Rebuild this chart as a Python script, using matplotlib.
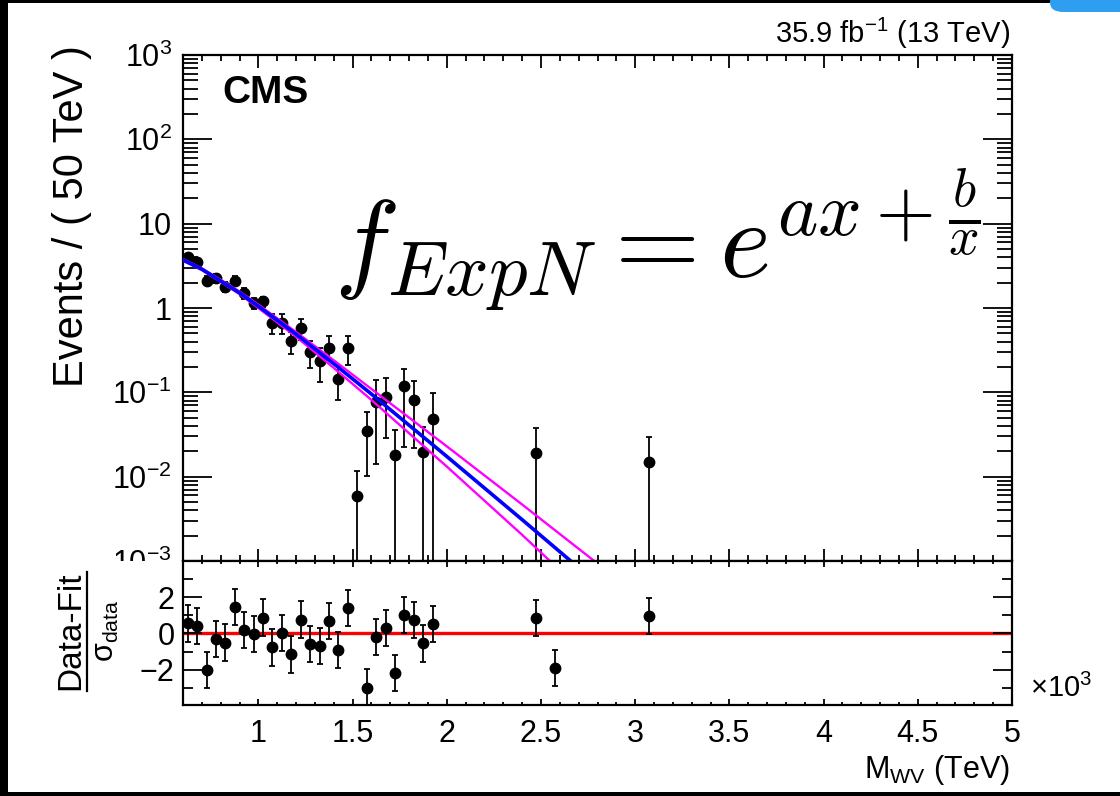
import numpy as np
import matplotlib.pyplot as plt
from matplotlib.patches import Rectangle, FancyBboxPatch
from matplotlib.lines import Line2D
from matplotlib.ticker import FixedLocator, LogLocator, NullFormatter

plt.rcParams['font.family'] = ['Liberation Sans', 'DejaVu Sans']
plt.rcParams['mathtext.fontset'] = 'custom'
plt.rcParams['mathtext.rm'] = 'Liberation Sans'
plt.rcParams['mathtext.it'] = 'Liberation Sans:italic'
plt.rcParams['mathtext.bf'] = 'Liberation Sans:bold'

# data points (GeV, events per bin)
mass = [625, 675, 725, 775, 825, 875, 925, 975, 1025, 1075, 1125, 1175, 1225,
        1275, 1325, 1375, 1425, 1475, 1525, 1575, 1625, 1675, 1725, 1775,
        1825, 1875, 1925, 2475, 3075]
events = [3.99, 3.48, 2.11, 2.25, 1.79, 2.11, 1.51, 1.15, 1.20, 0.664, 0.664,
          0.41, 0.574, 0.299, 0.234, 0.333, 0.144, 0.333, 0.00588, 0.0346,
          0.0776, 0.0882, 0.0181, 0.118, 0.0806, 0.0195, 0.0484, 0.019, 0.0151]
err_top = [4.4, 3.85, 2.4, 2.55, 2.05, 2.4, 1.75, 1.3, 1.36, 0.85, 0.84, 0.524,
           0.741, 0.41, 0.336, 0.46, 0.205, 0.46, 0.0118, 0.059, 0.14, 0.148,
           0.0362, 0.189, 0.138, 0.0392, 0.0977, 0.0379, 0.0298]
err_bot = [3.6, 3.1, 1.85, 1.97, 1.55, 1.85, 1.29, 0.96, 1.04, 0.49, 0.49, 0.285,
           0.42, 0.195, 0.134, 0.244, 0.081, 0.213, 1e-5, 0.0103, 0.0142, 0.0289,
           1e-5, 0.0223, 0.0219, 1e-5, 1e-5, 1e-5, 1e-5]

# fit curves (GeV, log10 events)
fit_mass = [600, 700, 800, 900, 1000, 1200, 1400, 1600, 2000, 2400, 2700]
fit_log = [0.57, 0.46, 0.32, 0.18, 0.02, -0.31, -0.66, -1.02, -1.76, -2.51, -3.08]
up_mass = [600, 700, 800, 900, 1000, 1200, 1400, 1600, 2000, 2400, 2800]
up_log = [0.58, 0.47, 0.335, 0.195, 0.04, -0.285, -0.62, -0.96, -1.64, -2.33, -3.03]
dn_mass = [600, 700, 800, 900, 1000, 1200, 1400, 1600, 2000, 2400, 2600]
dn_log = [0.56, 0.45, 0.31, 0.165, 0.0, -0.34, -0.71, -1.09, -1.88, -2.69, -3.11]

# pulls
pull_mass = [625, 675, 725, 775, 825, 875, 925, 975, 1025, 1075, 1125, 1175,
             1225, 1275, 1325, 1375, 1425, 1475, 1575, 1625, 1675, 1725, 1775,
             1825, 1875, 1925, 2475, 2575, 3075]
pull = [0.55, 0.42, -2.02, -0.31, -0.50, 1.46, 0.18, -0.04, 0.88, -0.77, 0.04,
        -1.16, 0.77, -0.59, -0.68, 0.69, -0.92, 1.41, -2.99, -0.18, 0.31, -2.18,
        1.01, 0.73, -0.55, 0.51, 0.86, -1.91, 0.95]
pull_err = [1.0] * len(pull)

xticks = [1000, 1500, 2000, 2500, 3000, 3500, 4000, 4500, 5000]
xlabels = ['1', '1.5', '2', '2.5', '3', '3.5', '4', '4.5', '5']
yticks = [1e-3, 1e-2, 1e-1, 1, 10, 1e2, 1e3]
ylabels = [r'$10^{-3}$', r'$10^{-2}$', r'$10^{-1}$', '1', '10', r'$10^{2}$', r'$10^{3}$']

W, H = 1120, 796
fig = plt.figure(figsize=(11.2, 7.96), dpi=100)


def box(l, t, r, b):
    return [l / W, 1 - b / H, (r - l) / W, (b - t) / H]


ax = fig.add_axes(box(183, 55, 1012, 561))
rx = fig.add_axes(box(183, 561, 1012, 705))
rx.set_zorder(2)
# lower pad hides the bottom of the upper one
fig.add_artist(Rectangle((0, 0), 1, 1 - 560.5 / H, transform=fig.transFigure,
                         facecolor='white', edgecolor='none', zorder=1))

# upper pad
ev = np.array(events)
yerr = [ev - np.array(err_bot), np.array(err_top) - ev]
ax.errorbar(mass, events, yerr=yerr, fmt='o', color='black', ms=7.5,
            elinewidth=1.3, capsize=2.5, capthick=1.3, zorder=2)
ax.plot(up_mass, 10 ** np.array(up_log), color='#ff00ff', lw=1.7, zorder=3)
ax.plot(dn_mass, 10 ** np.array(dn_log), color='#ff00ff', lw=1.7, zorder=3)
ax.plot(fit_mass, 10 ** np.array(fit_log), color='#0000ff', lw=2.6, zorder=4)

ax.set_yscale('log')
ax.set_xlim(600, 5000)
ax.set_ylim(1e-3, 1e3)
ax.xaxis.set_major_locator(FixedLocator(xticks))
ax.xaxis.set_minor_locator(FixedLocator(np.arange(600, 5001, 100)))
ax.set_yticks(yticks)
ax.set_yticklabels(ylabels)
ax.yaxis.set_minor_locator(LogLocator(base=10, subs=np.arange(2, 10)))
ax.yaxis.set_minor_formatter(NullFormatter())
ax.tick_params(which='both', direction='in', top=True, right=True,
               labelbottom=False, width=1.3, labelsize=22)
ax.xaxis.set_tick_params(which='major', length=9)
ax.xaxis.set_tick_params(which='minor', length=4.5)
ax.yaxis.set_tick_params(which='major', length=21, pad=8)
ax.yaxis.set_tick_params(which='minor', length=11)
for s in ax.spines.values():
    s.set_linewidth(1.6)

fig.text(657 / W, 1 - 240 / H, r'$f_{ExpN} = e^{ax+\frac{b}{x}}$',
         math_fontfamily='cm', fontsize=79, ha='center', va='center', zorder=5)

# lower pad
rx.axhline(0, color='red', lw=2.4, zorder=1)
rx.errorbar(pull_mass, pull, yerr=pull_err, fmt='o', color='black', ms=7.5,
            elinewidth=1.3, capsize=2.5, capthick=1.3, zorder=2)
rx.set_xlim(600, 5000)
rx.set_ylim(-3.95, 4.0)
rx.xaxis.set_major_locator(FixedLocator(xticks))
rx.set_xticklabels(xlabels)
rx.xaxis.set_minor_locator(FixedLocator(np.arange(600, 5001, 100)))
rx.yaxis.set_major_locator(FixedLocator([-2, 0, 2]))
rx.set_yticklabels(['\u22122', '0', '2'])
rx.yaxis.set_minor_locator(FixedLocator([-3, -1, 1, 3]))
rx.tick_params(which='both', direction='in', top=True, right=True, width=1.3,
               labelsize=22)
rx.xaxis.set_tick_params(which='major', length=4, pad=10)
rx.xaxis.set_tick_params(which='minor', length=2)
rx.yaxis.set_tick_params(which='major', length=14, pad=6)
rx.yaxis.set_tick_params(which='minor', length=7)
for s in rx.spines.values():
    s.set_linewidth(1.6)

# texts
fig.text(222 / W, 1 - 93 / H, 'CMS', fontsize=28, fontweight='bold',
         ha='left', va='center')
fig.text(1010 / W, 1 - 33 / H, r'35.9 fb$^{\mathrm{-1}}$ (13 TeV)', fontsize=21,
         ha='right', va='center')
fig.text(72 / W, 1 - 45 / H, 'Events / ( 50 TeV )', rotation=90, fontsize=30,
         ha='center', va='top')
# pull axis title as a hand-made fraction
fig.text(71 / W, 1 - 631 / H, 'Data-Fit', rotation=90, fontsize=24,
         ha='center', va='center')
fig.add_artist(Line2D([86.5 / W, 86.5 / W], [1 - 572 / H, 1 - 691 / H],
                      transform=fig.transFigure, color='black', lw=1.6))
fig.text(106 / W, 1 - 631 / H, r'$\mathrm{\sigma_{data}}$', rotation=90,
         fontsize=22, ha='center', va='center')
fig.text(1010 / W, 1 - 770 / H, r'M$_{\mathrm{WV}}$ (TeV)', fontsize=22,
         ha='right', va='center')
fig.text(1030 / W, 1 - 688 / H, r'$\times$10$^{3}$', fontsize=21,
         ha='left', va='center')

# screenshot frame
for r in [(0, 0, 8, H), (0, 0, W, 3), (0, H - 4, W, 4)]:
    fig.add_artist(Rectangle((r[0] / W, 1 - (r[1] + r[3]) / H), r[2] / W, r[3] / H,
                             transform=fig.transFigure, facecolor='black',
                             edgecolor='none', zorder=6))
fig.add_artist(FancyBboxPatch((1050 / W, 1 - 12 / H), 90 / W, 20 / H,
                              boxstyle='round,pad=0,rounding_size=0.012',
                              transform=fig.transFigure, facecolor='#2f9ef0',
                              edgecolor='none', zorder=7))

fig.savefig('out.png', dpi=100)
